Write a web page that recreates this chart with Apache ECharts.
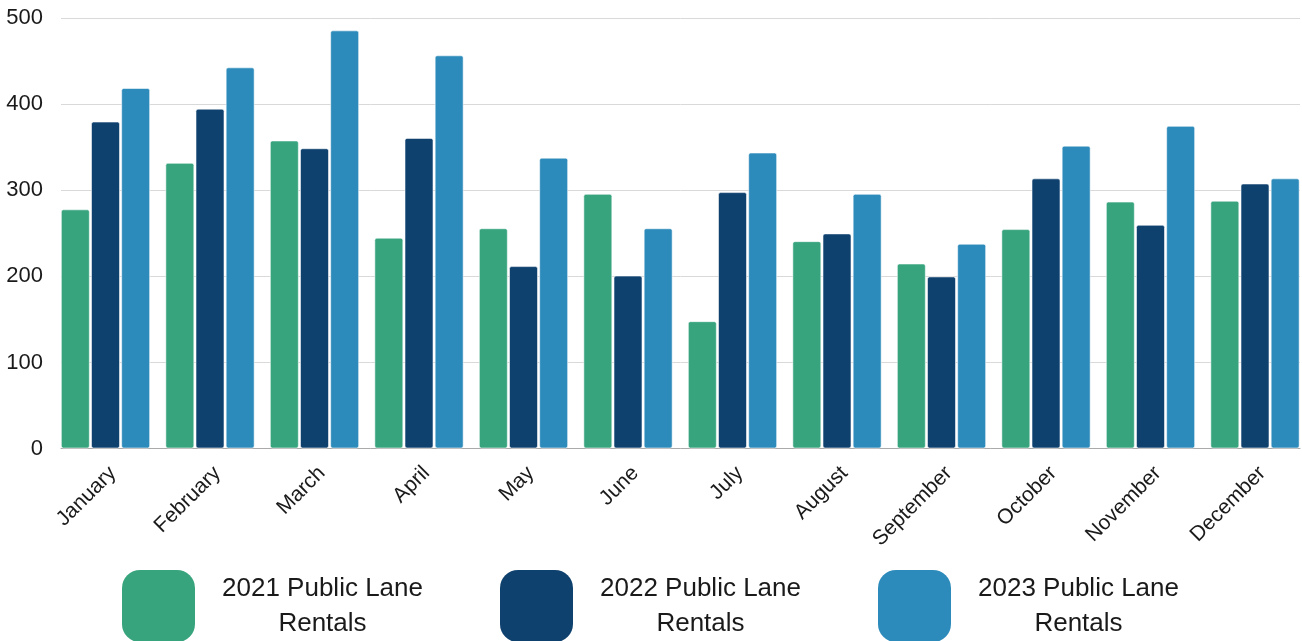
<!DOCTYPE html>
<html>
<head>
<meta charset="utf-8">
<script src="https://cdn.jsdelivr.net/npm/echarts@6/dist/echarts.min.js"></script>
<style>html,body{margin:0;padding:0;background:#fff}#c{width:1302px;height:641px}</style>
</head>
<body>
<div id="c"></div>
<script>
var months = ['January','February','March','April','May','June','July','August','September','October','November','December'];
var seriesNames = ['2021 Public Lane Rentals','2022 Public Lane Rentals','2023 Public Lane Rentals'];
var rentals2021 = [278, 332, 358, 245, 256, 296, 148, 241, 215, 255, 287, 288];
var rentals2022 = [380, 395, 349, 361, 212, 201, 298, 250, 200, 314, 260, 308];
var rentals2023 = [419, 443, 486, 457, 338, 256, 344, 296, 238, 352, 375, 314];
var yTicks = [0, 100, 200, 300, 400, 500];
var colors = ['#37a47e', '#0f416f', '#2d8bbb'];

var chart = echarts.init(document.getElementById('c'));
var font = '"Liberation Sans", Arial, sans-serif';
var barStyle = function (c) {
  return { color: c, borderRadius: 2, borderColor: 'rgba(255,255,255,0.55)', borderWidth: 1 };
};
chart.setOption({
  animation: false,
  textStyle: { fontFamily: font },
  grid: [
    { left: 61, right: 2, top: 18.3, bottom: 192.5, outerBoundsMode: 'none' },
    { left: 53.25, width: 1254, top: 18.3, bottom: 192.5, outerBoundsMode: 'none', containLabel: false }
  ],
  xAxis: [
    { type: 'value', gridIndex: 0, min: 0, max: 1, axisLine: { show: true, onZero: false, lineStyle: { color: '#aaaaaa', width: 1 } },
      axisTick: { show: false }, axisLabel: { show: false }, splitLine: { show: false } },
    { type: 'category', gridIndex: 1, data: months,
      axisLine: { show: false }, axisTick: { show: false },
      axisLabel: { rotate: 45, fontSize: 21, color: '#1a1a1a', margin: 14, verticalAlign: 'top', fontFamily: font, interval: 0 } }
  ],
  yAxis: [
    { type: 'value', gridIndex: 0, min: yTicks[0], max: yTicks[yTicks.length - 1], interval: 100,
      axisLine: { show: false }, axisTick: { show: false },
      axisLabel: { fontSize: 22, color: '#1a1a1a', margin: 18, fontFamily: font },
      splitLine: { lineStyle: { color: '#d9d9d9', width: 1 } } },
    { type: 'value', gridIndex: 1, min: 0, max: 500, show: false, splitLine: { show: false } }
  ],
  legend: {
    left: 122, top: 570, padding: 0,
    itemWidth: 73, itemHeight: 72, itemGap: 55,
    icon: 'roundRect',
    itemStyle: { borderWidth: 0 },
    data: seriesNames,
    formatter: function (name) {
      var p = name.split(' Rentals');
      return '{a|' + p[0] + '}\n{a|Rentals}';
    },
    textStyle: {
      rich: { a: { fontSize: 26, lineHeight: 35, width: 245, align: 'center', color: '#1a1a1a', fontFamily: font } }
    }
  },
  series: [
    { name: seriesNames[0], type: 'bar', xAxisIndex: 1, yAxisIndex: 1, data: rentals2021, barWidth: 29, barGap: '4%', itemStyle: barStyle(colors[0]) },
    { name: seriesNames[1], type: 'bar', xAxisIndex: 1, yAxisIndex: 1, data: rentals2022, barWidth: 29, barGap: '4%', itemStyle: barStyle(colors[1]) },
    { name: seriesNames[2], type: 'bar', xAxisIndex: 1, yAxisIndex: 1, data: rentals2023, barWidth: 29, barGap: '4%', itemStyle: barStyle(colors[2]) }
  ]
});
</script>
</body>
</html>
